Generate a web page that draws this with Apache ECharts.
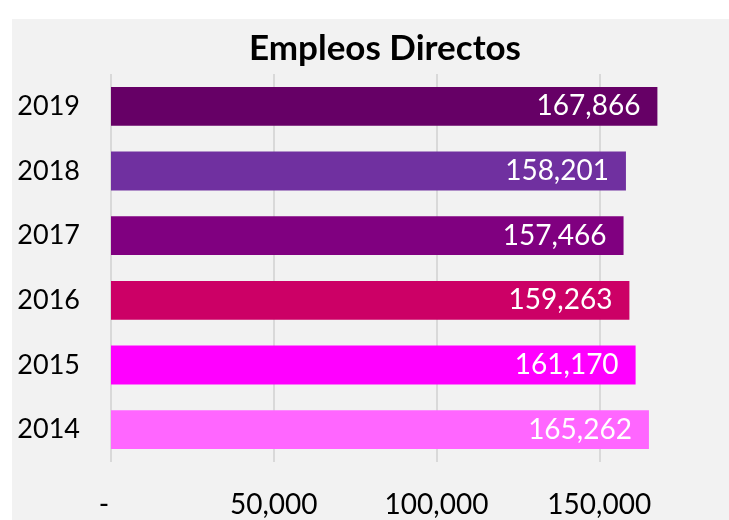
<!DOCTYPE html>
<html>
<head>
<meta charset="utf-8">
<script src="https://cdn.jsdelivr.net/npm/echarts@6/dist/echarts.min.js"></script>
<style>
html,body{margin:0;padding:0;background:#ffffff;}
#chart{width:729px;height:520px;}
</style>
</head>
<body>
<div id="chart"></div>
<script>
// Data (bottom to top)
const categories = ['2014', '2015', '2016', '2017', '2018', '2019'];
const values = [165262, 161170, 159263, 157466, 158201, 167866];
const barColors = ['#FF66FF', '#FF00FF', '#CC0066', '#800080', '#7030A0', '#660066'];
const titleText = 'Empleos Directos';

const fmt = v => v.toLocaleString('en-US');
const FONT = 'Lato';

const chart = echarts.init(document.getElementById('chart'), null, {renderer: 'canvas'});
chart.setOption({
  backgroundColor: '#ffffff',
  animation: false,
  graphic: [{
    type: 'rect',
    z: -100,
    silent: true,
    shape: {x: 12, y: 19, width: 717, height: 501},
    style: {fill: '#f2f2f2'}
  }],
  title: {
    text: titleText,
    left: 380,
    textAlign: 'center',
    top: 26,
    textStyle: {fontFamily: FONT, fontWeight: 'bold', fontSize: 35, color: '#000000'}
  },
  grid: {left: 111, top: 74, width: 651, height: 388, containLabel: false, outerBoundsMode: 'none'},
  xAxis: {
    type: 'value',
    min: 0,
    max: 200000,
    interval: 50000,
    axisLine: {show: false},
    axisTick: {show: false},
    splitLine: {show: true, lineStyle: {color: '#d9d9d9', width: 2}},
    axisLabel: {
      showMaxLabel: false,
      margin: 29,
      fontFamily: FONT,
      fontSize: 28,
      color: '#000000',
      formatter: v => v === 0 ? '-  ' : fmt(v)
    }
  },
  yAxis: {
    type: 'category',
    data: categories,
    axisLine: {show: false},
    axisTick: {show: false},
    axisLabel: {margin: 31, fontFamily: FONT, fontSize: 27, color: '#000000'}
  },
  series: [{
    type: 'bar',
    data: values.map((v, i) => ({value: v, itemStyle: {color: barColors[i]}})),
    barCategoryGap: '40%',
    label: {
      show: true,
      position: 'insideRight',
      distance: 17,
      fontFamily: FONT,
      fontSize: 28,
      color: '#ffffff',
      formatter: p => fmt(p.value)
    }
  }]
});
</script>
</body>
</html>
